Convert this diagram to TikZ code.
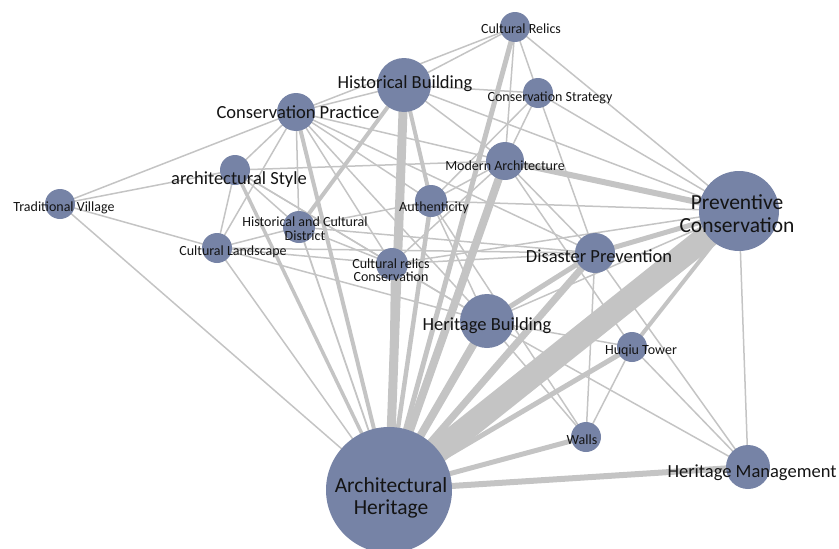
\documentclass[tikz,border=0pt]{standalone}
\usepackage{fontspec}
\setmainfont{Carlito}
\pgfdeclarelayer{background}
\pgfsetlayers{background,main}
\definecolor{nodeblue}{RGB}{118,131,166}
\definecolor{edgegray}{RGB}{196,196,196}
\definecolor{txt}{RGB}{20,20,20}
\tikzset{
  vnode/.style={circle, fill=nodeblue, draw=none, inner sep=0pt},
  lbl/.style={text=txt, inner sep=0pt, anchor=base},
  lbl2/.style={text=txt, inner sep=0pt, anchor=center, align=center},
  fs/.style={font=\fontsize{14}{15}\selectfont},
  fm/.style={font=\fontsize{18.5}{20}\selectfont},
  fl/.style={font=\fontsize{21.5}{23}\selectfont},
  edge/.style={draw=edgegray, line cap=butt}
}
\begin{document}
\begin{tikzpicture}[x=1pt,y=-1pt]
\useasboundingbox (0,0) rectangle (839,549);
% vertices
\node[vnode, minimum size=126pt] (AH)  at (389,490) {};
\node[vnode, minimum size=80pt]  (PC)  at (739,211) {};
\node[vnode, minimum size=54pt]  (HB)  at (404,85) {};
\node[vnode, minimum size=38pt]  (CP)  at (296,112) {};
\node[vnode, minimum size=30pt]  (aS)  at (235,170) {};
\node[vnode, minimum size=30pt]  (TV)  at (60,204) {};
\node[vnode, minimum size=32pt]  (HCD) at (299,227) {};
\node[vnode, minimum size=30pt]  (CL)  at (217,248) {};
\node[vnode, minimum size=32pt]  (CrC) at (392,264) {};
\node[vnode, minimum size=32pt]  (Au)  at (431,201) {};
\node[vnode, minimum size=30pt]  (CR)  at (515,27) {};
\node[vnode, minimum size=30pt]  (CS)  at (538,93) {};
\node[vnode, minimum size=38pt]  (MA)  at (505,161) {};
\node[vnode, minimum size=40pt]  (DP)  at (595,253) {};
\node[vnode, minimum size=54pt]  (HBd) at (487,321) {};
\node[vnode, minimum size=30pt]  (HT)  at (632,347) {};
\node[vnode, minimum size=30pt]  (W)   at (586,437) {};
\node[vnode, minimum size=44pt]  (HM)  at (748,467) {};
% edges
\begin{pgfonlayer}{background}
\foreach \a/\b/\w in {
  AH/PC/24, AH/HB/9, AH/MA/8, AH/HBd/8, AH/DP/7, AH/CR/5, AH/HM/6, AH/W/5,
  AH/HT/5, AH/Au/4.5, AH/CP/4, AH/aS/3.5, AH/HCD/1.8, AH/CL/1.5, AH/TV/1.5, AH/CrC/2,
  PC/MA/6, PC/DP/5, PC/HT/4, HB/HCD/4, HB/Au/4, DP/HBd/5,
  TV/CP/1.5, TV/aS/1.5, TV/CL/1.5,
  CP/HB/1.5, CP/CR/1.5, CP/aS/1.5, CP/CL/1.5, CP/Au/1.5, CP/MA/1.5, CP/CrC/1.5,
  CP/HBd/1.5, CP/DP/1.5, CP/HCD/1.5,
  aS/MA/1.5, aS/CL/1.5, aS/HCD/1.5, aS/CrC/1.5, aS/HBd/1.5,
  CL/CrC/1.5, CL/DP/1.5, CL/HBd/1.5, CL/HCD/1.5,
  HCD/CrC/1.5, HCD/DP/1.5, HCD/Au/1.5,
  HB/CR/1.5, HB/CS/1.5, HB/MA/1.5, HB/PC/1.5,
  CR/CS/1.5, CR/MA/1.5, CR/PC/1.5,
  CS/MA/1.5, CS/PC/1.5, CS/DP/1.5, CS/Au/1.5,
  MA/DP/1.5, MA/Au/1.5, MA/HT/1.5, MA/CrC/1.5,
  Au/PC/1.5, Au/W/1.5, Au/HBd/1.5,
  CrC/PC/1.5, CrC/DP/1.5, CrC/HBd/1.5,
  DP/W/1.5, DP/HM/1.5,
  HBd/HM/1.5, HBd/HT/1.5, HBd/W/1.5, HBd/PC/1.5,
  HT/W/1.5, HT/HM/1.5, PC/HM/1.5}
  \draw[edge, line width=\w pt] (\a.center) -- (\b.center);
\end{pgfonlayer}
% labels
\node[lbl, fm] (tHB)  at (405,88)  {Historical Building};
\node[lbl, fm] (tCP)  at (298,118.5) {Conservation Practice};
\node[lbl, fm] (taS)  at (239,184.5) {architectural Style};
\node[lbl, fs] (tTV)  at (64,211)  {Traditional Village};
\node[lbl2, fs] (tHCD) at (305,228.5) {Historical and Cultural\\[-1pt]District};
\node[lbl, fs] (tCL)  at (233,255) {Cultural Landscape};
\node[lbl2, fs] (tCrC) at (391,270) {Cultural relics\\[-2pt]Conservation};
\node[lbl, fs] (tAu)  at (434,211) {Authenticity};
\node[lbl, fs] (tCR)  at (521,33)  {Cultural Relics};
\node[lbl, fs] (tCS)  at (550,101) {Conservation Strategy};
\node[lbl, fs] (tMA)  at (505,170) {Modern Architecture};
\node[lbl2, fl] (tPC)  at (737,213.5) {Preventive\\Conservation};
\node[lbl, fm] (tDP)  at (599,262.5) {Disaster Prevention};
\node[lbl, fm] (tHBd) at (487,330.5) {Heritage Building};
\node[lbl, fs] (tHT)  at (641,354) {Huqiu Tower};
\node[lbl, fs] (tW)   at (582,444) {Walls};
\node[lbl, fm] (tHM)  at (752,477.5) {Heritage Management};
\node[lbl2, fl] (tAH)  at (391,498) {Architectural\\[-1pt]Heritage};
\end{tikzpicture}
\end{document}
